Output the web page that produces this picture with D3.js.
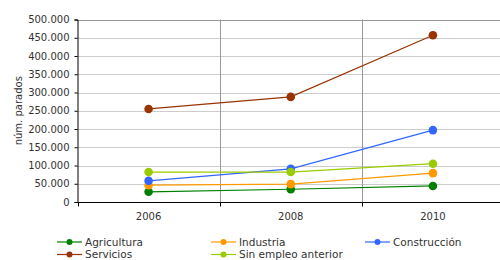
<!DOCTYPE html>
<html>
<head>
<meta charset="utf-8">
<script src="https://cdn.jsdelivr.net/npm/d3@7"></script>
<style>
  body { margin: 0; background: #fff; }
  svg { display: block; font-family: "DejaVu Sans", Verdana, sans-serif; }
</style>
</head>
<body>
<div id="chart"></div>
<script>
const years = ['2006', '2008', '2010'];
const agricultura = [28000, 35000, 44000];
const industria = [46000, 49000, 79000];
const construccion = [58000, 91000, 197000];
const servicios = [255000, 288000, 457000];
const sinEmpleo = [82000, 82000, 105000];
const yTicks = [0, 50000, 100000, 150000, 200000, 250000, 300000, 350000, 400000, 450000, 500000];

const series = [
  { name: 'Agricultura', values: agricultura, color: '#008000' },
  { name: 'Industria', values: industria, color: '#ff9900' },
  { name: 'Construcción', values: construccion, color: '#3366ff' },
  { name: 'Servicios', values: servicios, color: '#993300' },
  { name: 'Sin empleo anterior', values: sinEmpleo, color: '#99cc00' }
];

const width = 500, height = 260;
const margin = { top: 19.5, right: -4, bottom: 58, left: 77.5 };

const svg = d3.select('#chart').append('svg')
  .attr('width', width)
  .attr('height', height);

const x = d3.scaleBand()
  .domain(years)
  .range([margin.left, width - margin.right]);

const y = d3.scaleLinear()
  .domain([0, 500000])
  .range([height - margin.bottom, margin.top]);

const fmt = d => d3.format(',')(d).replace(/,/g, '.');

// horizontal grid
svg.append('g')
  .selectAll('line')
  .data(yTicks.slice(1))
  .join('line')
  .attr('x1', margin.left)
  .attr('x2', width)
  .attr('y1', d => Math.round(y(d)) + 0.5)
  .attr('y2', d => Math.round(y(d)) + 0.5)
  .attr('stroke', d => d === 500000 ? '#999' : '#ccc')
  .attr('stroke-width', 1);

// vertical grid at category boundaries
svg.append('g')
  .selectAll('line')
  .data(years.slice(1))
  .join('line')
  .attr('x1', d => Math.round(x(d)) + 0.5)
  .attr('x2', d => Math.round(x(d)) + 0.5)
  .attr('y1', margin.top)
  .attr('y2', y(0))
  .attr('stroke', '#999');

// y axis
const yAxis = svg.append('g')
  .attr('transform', `translate(${margin.left},0)`)
  .call(d3.axisLeft(y).tickValues(yTicks).tickFormat(fmt).tickSize(3).tickPadding(5));
yAxis.select('.domain').attr('stroke', '#000');
yAxis.selectAll('.tick line').attr('stroke', '#000');
yAxis.selectAll('text').attr('fill', '#333').attr('font-size', 10)
  .attr('font-family', '"DejaVu Sans", Verdana, sans-serif');

// x axis
const xAxis = svg.append('g')
  .attr('transform', `translate(0,${Math.round(y(0)) + 0.5})`);
xAxis.append('line')
  .attr('x1', margin.left).attr('x2', width)
  .attr('stroke', '#000');
xAxis.selectAll('line.tk')
  .data(years)
  .join('line')
  .attr('class', 'tk')
  .attr('x1', d => Math.round(x(d)) + 0.5)
  .attr('x2', d => Math.round(x(d)) + 0.5)
  .attr('y1', 0).attr('y2', 4)
  .attr('stroke', '#000');
xAxis.selectAll('text')
  .data(years)
  .join('text')
  .attr('x', d => x(d) + x.bandwidth() / 2)
  .attr('y', 17.5)
  .attr('text-anchor', 'middle')
  .attr('fill', '#333')
  .attr('font-size', 10)
  .text(d => d);

// y label
svg.append('text')
  .attr('transform', `translate(22,${(margin.top + y(0)) / 2}) rotate(-90)`)
  .attr('text-anchor', 'middle')
  .attr('fill', '#333')
  .attr('font-size', 10)
  .text('núm. parados');

// lines and markers
const cx = d => x(d) + x.bandwidth() / 2;
const line = d3.line()
  .x((d, i) => cx(years[i]))
  .y(d => y(d));

series.forEach(s => {
  svg.append('path')
    .datum(s.values)
    .attr('fill', 'none')
    .attr('stroke', s.color)
    .attr('stroke-width', 1.2)
    .attr('d', line);
  svg.append('g')
    .selectAll('circle')
    .data(s.values)
    .join('circle')
    .attr('cx', (d, i) => cx(years[i]))
    .attr('cy', d => y(d))
    .attr('r', 4.3)
    .attr('fill', s.color);
});

// legend
const legendCols = [57, 211, 365];
const legendRows = [242, 254.5];
const legend = svg.append('g');
series.forEach((s, i) => {
  const lx = legendCols[i % 3];
  const ly = legendRows[Math.floor(i / 3)];
  const g = legend.append('g').attr('transform', `translate(${lx},${ly})`);
  g.append('line')
    .attr('x1', 0).attr('x2', 25)
    .attr('y1', 0).attr('y2', 0)
    .attr('stroke', s.color)
    .attr('stroke-width', 1.2);
  g.append('circle')
    .attr('cx', 12.5).attr('cy', 0).attr('r', 3)
    .attr('fill', s.color);
  g.append('text')
    .attr('x', 28).attr('y', 3.8)
    .attr('fill', '#333')
    .attr('font-size', 10.5)
    .text(s.name);
});
</script>
</body>
</html>
